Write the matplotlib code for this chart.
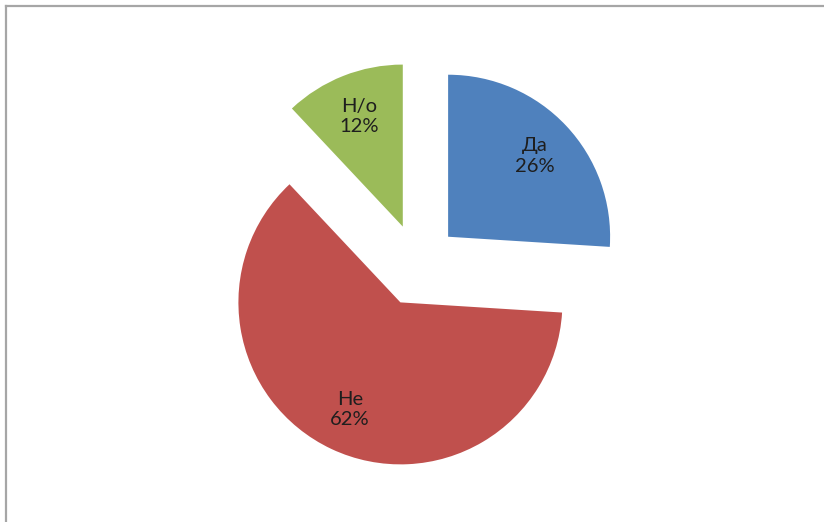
import numpy as np
import matplotlib
matplotlib.use("Agg")
import matplotlib.pyplot as plt
from matplotlib.lines import Line2D

# slice data (clockwise from 12 o'clock)
names = ['Да', 'Не', 'Н/о']
shares = [26, 62, 12]
colors = ['#4f81bd', '#c0504d', '#9bbb59']

plt.rcParams['font.family'] = ['Lato', 'DejaVu Sans']

fig = plt.figure(figsize=(8.24, 5.22), dpi=100)
fig.patch.set_facecolor('white')

# axes over the whole figure, 1 data unit = pie radius (~162 px)
ax = fig.add_axes([0, 0, 1, 1])
r_px = 162.0
cx, cy = 418.0, 265.0
ax.axis('off')

wedges, _ = ax.pie(shares, colors=colors, startangle=90, counterclock=False,
                   explode=[0.255] * len(shares), radius=1.0,
                   wedgeprops=dict(linewidth=0))
ax.set_aspect('auto')
ax.set_xlim(-cx / r_px, (824 - cx) / r_px)
ax.set_ylim(-(522 - cy) / r_px, cy / r_px)

# labels inside each slice
for w, name, v in zip(wedges, names, shares):
    ang = np.deg2rad((w.theta1 + w.theta2) / 2)
    x = w.center[0] + 0.73 * np.cos(ang)
    y = w.center[1] + 0.73 * np.sin(ang)
    ax.text(x, y, f'{name}\n{v}%', ha='center', va='center',
            fontsize=14.5, color='#1e1e1e', linespacing=1.25)

# light grey frame (left and top edges visible)
fig.add_artist(Line2D([5.5 / 824, 5.5 / 824], [0, 1 - 5.5 / 522],
                      transform=fig.transFigure, color='#a6a6a6', lw=1.6))
fig.add_artist(Line2D([5.5 / 824, 1], [1 - 5.5 / 522, 1 - 5.5 / 522],
                      transform=fig.transFigure, color='#a6a6a6', lw=1.6))

fig.savefig('out.png', dpi=100)
